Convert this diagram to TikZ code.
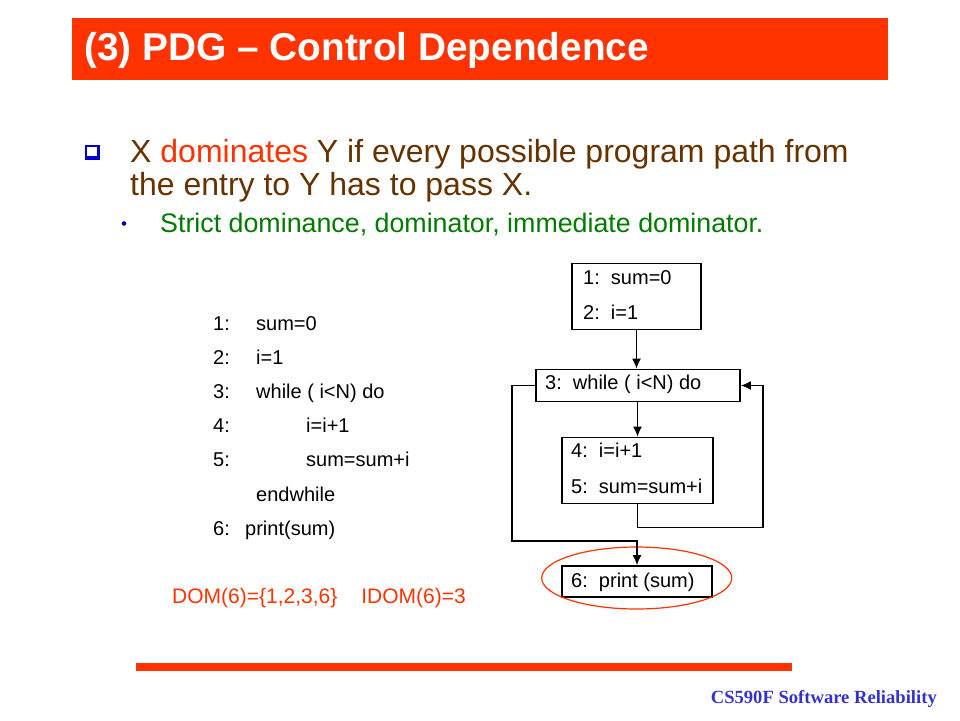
\documentclass[tikz,border=0pt]{standalone}
\usepackage{fontspec}
\setmainfont{Liberation Sans}
\newfontfamily\footfont{Liberation Serif}
\usetikzlibrary{arrows.meta,shapes.geometric}
\definecolor{slidered}{HTML}{FF3300}
\definecolor{textbrown}{HTML}{663300}
\definecolor{subgreen}{HTML}{007A00}
\definecolor{bulletblue}{HTML}{0000CC}
\definecolor{footblue}{HTML}{3333CC}
\tikzset{
  codeline/.style={anchor=base west, inner sep=0pt, font=\fontsize{20}{24}\selectfont},
  stmtbox/.style={draw, line width=1.6pt, inner sep=0pt},
  flowarrow/.style={line width=1.6pt, -{Latex[length=10pt,width=9pt]}}
}
\begin{document}
\begin{tikzpicture}[x=1pt,y=-1pt]
    \useasboundingbox (0,0) rectangle (960,720);
    \fill[slidered] (72,18) rectangle (888,80);
    \node[anchor=base west, inner sep=0pt, text=white, font=\fontsize{38.8}{40}\selectfont\bfseries] (title) at (84,60) {(3) PDG – Control Dependence};

    \fill[bulletblue] (85,145) rectangle (100,160);
    \fill[white] (86.8,146.8) rectangle (97.2,156.2);
    \node[anchor=base west, inner sep=0pt, text=textbrown, font=\fontsize{32}{36}\selectfont] (line1) at (130,162) {X \textcolor{slidered}{dominates} Y if every possible program path from};
    \node[anchor=base west, inner sep=0pt, text=textbrown, font=\fontsize{32}{36}\selectfont] (line2) at (130,195) {the entry to Y has to pass X.};
    \fill[bulletblue] (124,223.5) circle (2.3pt);
    \node[anchor=base west, inner sep=0pt, text=subgreen, font=\fontsize{26.8}{30}\selectfont] (sub) at (160,232) {Strict dominance, dominator, immediate dominator.};

    \foreach \num/\stmt/\ind [count=\k] in {1:/sum=0/256, 2:/i=1/256, 3:/while ( i<N) do/256, 4:/i=i+1/306, 5:/sum=sum+i/306, /endwhile/256, 6:/print(sum)/245}{
        \node[codeline] (num\k) at (213,{330+34.2*(\k-1)}) {\num};
        \node[codeline] (stmt\k) at (\ind,{330+34.2*(\k-1)}) {\stmt};
    }
    \node[codeline, text=slidered, font=\fontsize{21}{24}\selectfont] (dom) at (172,603) {DOM(6)=\{1,2,3,6\}\hspace{24pt}IDOM(6)=3};

    \node[stmtbox, minimum width=129pt, minimum height=66pt] (b12) at (636.5,296.5) {};
    \node[codeline] (t1) at (583,284) {1:\ \ sum=0};
    \node[codeline] (t2) at (583,319) {2:\ \ i=1};
    \node[stmtbox, minimum width=204pt, minimum height=32pt] (b3) at (638,385.5) {};
    \node[codeline] (t3) at (545,389) {3:\ \ while ( i<N) do};
    \node[stmtbox, minimum width=151pt, minimum height=66pt] (b45) at (637.5,470.5) {};
    \node[codeline] (t4) at (571,457) {4:\ \ i=i+1};
    \node[codeline] (t5) at (571,493) {5:\ \ sum=sum+i};
    \node[stmtbox, minimum width=150pt, minimum height=31pt] (b6) at (637,581.5) {};
    \node[codeline] (t6) at (571,587) {6:\ \ print (sum)};
    \node[draw=slidered, line width=1.2pt, ellipse, minimum width=190pt, minimum height=62pt] (hl) at (636.7,578) {};

    \coordinate (loopr) at (763,527.5);
    \coordinate (exitl) at (512,541);
    \draw[flowarrow] (b12.south) -- (b12.south |- b3.north);
    \draw[flowarrow] (b45.north |- b3.south) -- (b45.north);
    \draw[flowarrow] (b45.south) |- (loopr) |- (b3.east);
    \draw[flowarrow] (b3.west) -| (exitl) -| (b6.north);

    \fill[slidered] (136,663) rectangle (792,671);
    \node[anchor=base east, inner sep=0pt, text=footblue, font=\fontsize{18.6}{20}\selectfont\footfont\bfseries] (foot) at (937,703) {CS590F Software Reliability};
\end{tikzpicture}
\end{document}
